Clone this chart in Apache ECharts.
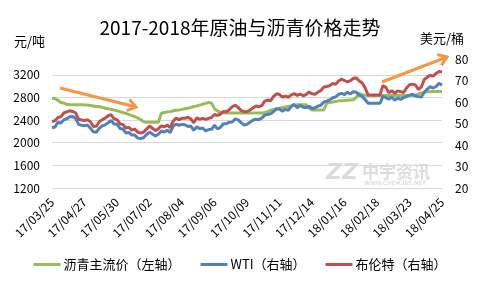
<!DOCTYPE html>
<html><head><meta charset="utf-8">
<script src="https://cdn.jsdelivr.net/npm/echarts@6/dist/echarts.min.js"></script>
<style>html,body{margin:0;padding:0;background:#fff}#c{width:480px;height:288px}</style>
</head><body><div id="c"></div>
<script>
// ---- data ----
const startDate = '2017-03-25';   // first category
const stepDays = 3;               // sampling step of the series
const nPoints = 133;
const seriesNames = ['沥青主流价（左轴）', 'WTI（右轴）', '布伦特（右轴）'];
const leftTicks = [1200, 1600, 2000, 2400, 2800, 3200];
const rightTicks = [20, 30, 40, 50, 60, 70, 80];

const asphalt = [
2780,2780,2750,2710,2700,2680,2670,2670,2670,2670,
2670,2665,2665,2660,2650,2640,2640,2625,2610,2600,
2590,2580,2565,2550,2530,2520,2500,2480,2460,2440,
2410,2370,2360,2360,2360,2360,2360,2520,2535,2545,
2550,2565,2575,2580,2590,2600,2610,2625,2640,2650,
2665,2680,2695,2710,2700,2600,2560,2540,2530,2525,
2525,2525,2525,2525,2525,2525,2525,2525,2525,2525,
2525,2525,2535,2550,2575,2590,2600,2610,2620,2630,
2640,2650,2660,2670,2670,2670,2670,2610,2580,2580,
2580,2580,2580,2700,2710,2720,2730,2740,2740,2745,
2750,2755,2760,2800,2870,2850,2840,2835,2835,2835,
2835,2835,2835,2835,2835,2835,2835,2835,2835,2835,
2835,2835,2835,2845,2860,2880,2890,2900,2900,2905,
2905,2905,2905];

const wti = [
48.0,48.4,50.6,50.2,51.7,52.2,53.1,53.2,52.4,49.6,
49.2,49.0,49.3,47.8,46.2,45.9,47.8,48.9,49.4,50.3,
51.4,49.8,49.7,47.7,47.4,45.6,45.8,44.7,44.7,43.2,
43.0,43.4,44.9,46.0,45.1,44.2,45.0,46.5,46.0,46.9,
45.8,48.8,49.7,49.2,49.6,49.4,48.6,48.8,46.8,48.5,
47.6,47.9,46.6,47.2,47.3,49.2,47.5,48.2,49.9,49.9,
50.6,50.7,52.1,51.7,50.4,49.3,49.6,50.6,51.5,52.0,
51.8,52.5,53.9,54.2,54.5,55.6,56.8,56.7,55.7,56.6,
56.1,58.0,58.9,57.3,58.4,57.6,57.4,58.0,57.0,57.3,
58.1,58.5,60.0,60.4,61.0,62.0,62.4,63.6,64.0,63.5,
64.5,63.8,64.8,64.5,63.2,62.6,61.0,59.4,59.4,59.4,
59.4,59.4,62.6,62.0,61.3,62.2,60.8,61.8,61.2,62.0,
62.5,63.2,63.6,62.8,62.5,62.3,64.5,66.0,67.1,66.5,
67.2,68.7,67.8];

const brent = [
50.8,51.3,52.8,53.1,54.9,55.4,55.9,55.6,54.9,52.0,
51.6,51.4,51.7,50.8,48.6,48.7,50.8,51.8,52.5,53.6,
54.1,52.2,51.8,49.9,49.5,47.9,48.2,46.9,47.4,46.0,
45.5,46.0,47.4,48.8,47.8,46.7,47.5,48.9,48.4,49.3,
48.1,51.0,52.5,51.8,52.4,52.4,52.9,52.1,50.3,52.7,
51.9,52.4,51.9,52.4,52.8,54.2,53.8,54.3,55.6,55.5,
56.4,57.8,58.5,57.5,56.0,55.6,55.5,56.3,57.2,58.2,
57.8,58.3,60.4,60.9,60.6,62.6,63.8,63.5,62.2,62.7,
62.2,63.3,63.9,63.1,63.7,62.9,63.4,64.7,63.8,63.6,
64.6,65.3,67.0,67.2,67.6,68.6,68.2,69.8,70.6,70.0,
69.4,69.9,71.0,71.2,69.8,68.8,66.5,63.2,63.2,63.2,
63.2,63.2,67.6,66.8,64.3,65.3,64.0,65.2,64.8,64.4,
66.5,68.0,68.3,67.9,65.8,67.0,70.5,71.5,72.5,72.0,
73.3,74.2,74.0];

// ---- categories (dates, YY/MM/DD) ----
function pad(n){return (n<10?'0':'')+n;}
const categories = [];
{
  const t0 = Date.parse(startDate + 'T00:00:00Z');
  for (let i = 0; i < nPoints; i++) {
    const d = new Date(t0 + i * stepDays * 86400000);
    categories.push(String(d.getUTCFullYear()).slice(2) + '/' + pad(d.getUTCMonth()+1) + '/' + pad(d.getUTCDate()));
  }
}

const colors = ['#9BBB59', '#4F81BD', '#C0504D'];
const FONT = '"Noto Sans CJK SC", "Noto Sans", sans-serif';
const arrowColor = '#F79646';

function arrow(x1, y1, x2, y2) {
  const a = Math.atan2(y2 - y1, x2 - x1);
  const L = 10, s = 0.62;
  const p1 = [x2 - L * Math.cos(a - s), y2 - L * Math.sin(a - s)];
  const p2 = [x2 - L * Math.cos(a + s), y2 - L * Math.sin(a + s)];
  return [
    { type: 'line', shape: { x1, y1, x2, y2 }, style: { stroke: arrowColor, lineWidth: 3 }, z: 100 },
    { type: 'polyline', shape: { points: [p1, [x2, y2], p2] }, style: { stroke: arrowColor, lineWidth: 3, fill: null, lineJoin: 'miter' }, z: 100 }
  ];
}

const chart = echarts.init(document.getElementById('c'), null, { renderer: 'canvas' });
chart.setOption({
  animation: false,
  backgroundColor: '#fff',
  textStyle: { fontFamily: FONT },
  color: colors,
  title: {
    text: '2017-2018年原油与沥青价格走势',
    left: 'center', top: 13,
    textStyle: { fontSize: 19, fontWeight: 'normal', color: '#000', fontFamily: FONT }
  },
  grid: { left: 52, right: 38, top: 59, bottom: 100 },
  legend: {
    bottom: 12, left: 'center',
    itemWidth: 27, itemHeight: 3, itemGap: 20,
    icon: 'rect',
    textStyle: { fontSize: 13, color: '#000', fontFamily: FONT, padding: [0, 0, 0, -2] },
    data: seriesNames
  },
  xAxis: {
    type: 'category',
    data: categories,
    boundaryGap: false,
    axisLine: { show: false },
    axisTick: { show: false },
    axisLabel: { interval: 10, rotate: 45, fontSize: 12, color: '#000', margin: 12, fontFamily: FONT }
  },
  yAxis: [
    {
      type: 'value', min: leftTicks[0], max: 3480, interval: 400,
      axisLine: { show: false }, axisTick: { show: false },
      axisLabel: { fontSize: 12, color: '#000', margin: 12, showMaxLabel: false, fontFamily: FONT,
        formatter: function (v) { return String(v); } },
      splitLine: { show: true, showMaxLine: false, lineStyle: { color: '#D9D9D9', width: 1 } }
    },
    {
      type: 'value', position: 'right', min: rightTicks[0], max: rightTicks[rightTicks.length - 1], interval: 10,
      axisLine: { show: false }, axisTick: { show: false },
      axisLabel: { fontSize: 12, color: '#000', margin: 13, fontFamily: FONT,
        formatter: function (v) { return String(v); } },
      splitLine: { show: false }
    }
  ],
  series: [
    { name: seriesNames[0], type: 'line', yAxisIndex: 0, data: asphalt, showSymbol: false, symbol: 'none', lineStyle: { width: 3, color: colors[0] }, z: 2 },
    { name: seriesNames[1], type: 'line', yAxisIndex: 1, data: wti, showSymbol: false, symbol: 'none', lineStyle: { width: 3, color: colors[1] }, z: 3 },
    { name: seriesNames[2], type: 'line', yAxisIndex: 1, data: brent, showSymbol: false, symbol: 'none', lineStyle: { width: 3, color: colors[2] }, z: 4 }
  ],
  graphic: [
    { type: 'text', left: 14, top: 35, style: { text: '元/吨', fontSize: 13, fill: '#000', fontFamily: FONT } },
    { type: 'text', left: 420, top: 32, style: { text: '美元/桶', fontSize: 13, fill: '#000', fontFamily: FONT } },
    { type: 'text', left: 326, top: 162, z: 0, style: { text: 'ZZ', fontSize: 22, fontWeight: 'bold', fontStyle: 'italic', fill: '#DCDCDC', fontFamily: '"DejaVu Sans"' } },
    { type: 'text', left: 362, top: 163, z: 0, style: { text: '中宇资讯', fontSize: 17, fontWeight: 'bold', fill: '#DCDCDC', fontFamily: FONT } },
    { type: 'text', left: 364, top: 180, z: 0, style: { text: 'WWW.CHEM365.NET', fontSize: 6, fill: '#D0D0D0', fontFamily: '"DejaVu Sans"' } },
    ...arrow(60, 88, 136, 107),
    ...arrow(382, 82, 447, 57)
  ]
});
</script></body></html>
